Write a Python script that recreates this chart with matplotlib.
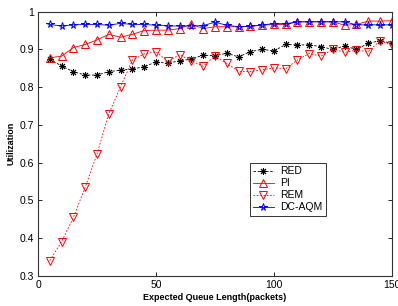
import numpy as np
from matplotlib import pyplot as plt

plt.rcParams['font.family'] = ['Liberation Sans', 'DejaVu Sans']

# queue lengths (packets)
qlen = [5, 10, 15, 20, 25, 30, 35, 40, 45, 50, 55, 60, 65, 70, 75,
        80, 85, 90, 95, 100, 105, 110, 115, 120, 125, 130, 135, 140, 145, 150]

red = [0.874, 0.856, 0.841, 0.832, 0.832, 0.841, 0.845, 0.848, 0.854, 0.867,
       0.863, 0.870, 0.874, 0.885, 0.883, 0.890, 0.880, 0.894, 0.900, 0.896,
       0.913, 0.912, 0.912, 0.907, 0.900, 0.909, 0.900, 0.916, 0.923, 0.916]

pi = [0.878, 0.882, 0.905, 0.913, 0.925, 0.940, 0.932, 0.940, 0.950, 0.951,
      0.951, 0.955, 0.967, 0.955, 0.960, 0.960, 0.960, 0.961, 0.964, 0.966,
      0.966, 0.973, 0.973, 0.973, 0.973, 0.964, 0.966, 0.975, 0.975, 0.976]

rem = [0.341, 0.391, 0.455, 0.535, 0.623, 0.729, 0.801, 0.872, 0.888, 0.894,
       0.868, 0.886, 0.870, 0.855, 0.883, 0.863, 0.842, 0.841, 0.846, 0.851,
       0.849, 0.872, 0.889, 0.882, 0.901, 0.892, 0.898, 0.894, 0.923, 0.911]

dcaqm = [0.966, 0.962, 0.965, 0.966, 0.966, 0.964, 0.969, 0.966, 0.966, 0.964,
         0.962, 0.962, 0.962, 0.963, 0.972, 0.964, 0.960, 0.961, 0.965, 0.968,
         0.968, 0.973, 0.973, 0.973, 0.973, 0.973, 0.965, 0.965, 0.965, 0.965]

fig = plt.figure(figsize=(3.98, 3.06), dpi=100)
ax = fig.add_axes([0.0955, 0.098, 0.889, 0.864])

ax.plot(qlen, red, color='black', linestyle='--', linewidth=0.6, dashes=(3, 2),
        marker=(8, 2, 0), markersize=5, markeredgewidth=0.7, label='RED')
ax.plot(qlen, pi, color='red', linestyle='-', linewidth=0.6,
        marker='^', markersize=5.5, markerfacecolor='none', markeredgewidth=0.7, label='PI')
ax.plot(qlen, rem, color='red', linestyle='--', linewidth=0.6, dashes=(2, 2),
        marker='v', markersize=5.5, markerfacecolor='none', markeredgewidth=0.7, label='REM')
ax.plot(qlen, dcaqm, color='blue', linestyle='-', linewidth=0.6,
        marker='*', markersize=5.5, markerfacecolor='none', markeredgewidth=0.7, label='DC-AQM')

ax.set_xlim(0, 150)
ax.set_ylim(0.3, 1.0)
ax.set_xticks([0, 50, 100, 150])
ax.set_yticks([0.3, 0.4, 0.5, 0.6, 0.7, 0.8, 0.9, 1.0])
ax.set_yticklabels(['0.3', '0.4', '0.5', '0.6', '0.7', '0.8', '0.9', '1'])
ax.tick_params(direction='in', top=True, right=True, labelsize=7.5, length=3, width=0.6, pad=3)
for s in ax.spines.values():
    s.set_linewidth(0.8)
    s.set_color('#333333')

ax.set_xlabel('Expected Queue Length(packets)', fontsize=6.5, fontweight='bold', labelpad=2)
ax.set_ylabel('Utilization', fontsize=6.5, fontweight='bold', labelpad=3)

leg = ax.legend(loc='upper left', bbox_to_anchor=(0.599, 0.427), fontsize=7.5,
                frameon=True, fancybox=False, edgecolor='black', handlelength=2.0,
                borderpad=0.3, labelspacing=0.2, handletextpad=0.6, borderaxespad=0)
leg.get_frame().set_linewidth(0.7)

fig.savefig('out.png', dpi=100)
